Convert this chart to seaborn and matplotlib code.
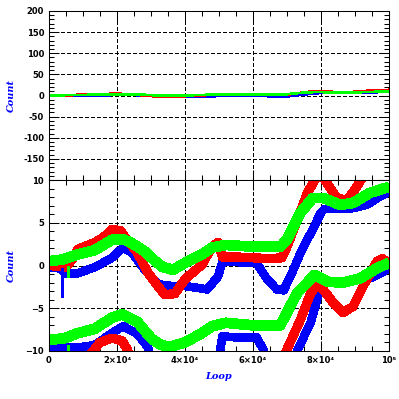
import numpy as np
import pandas as pd
import seaborn as sns
import matplotlib.pyplot as plt
from matplotlib.ticker import MultipleLocator

# ======================================
# DADOS (loop em milhares, contagem)
# ======================================

# conjunto superior (aparece tambem no painel de cima)
loop_blue_hi = [0, 3, 5, 8.5, 13.5, 18.5, 21.8, 24.4, 28, 32, 36, 40, 43.5, 46.5, 49.7, 51,
                55, 61, 64, 67, 69, 71, 74, 77, 80, 81, 85, 88, 91.5, 94, 97, 100]
count_blue_hi = [-0.2, -0.3, -1.0, -0.9, -0.2, 0.9, 2.1, 1.5, -0.4, -2.2, -2.4, -2.4, -2.6, -2.8, -1.3, 0.4,
                 0.4, 0.3, -1.5, -2.8, -2.9, -1.3, 1.5, 3.8, 6.2, 6.6, 6.6, 6.6, 6.9, 7.2, 8.0, 8.6]

loop_red_hi = [0, 3, 5, 7, 8.5, 13.5, 16, 18.5, 21, 22.5, 26, 29, 32, 34, 37, 40, 45, 48, 49.7, 51,
               55, 60, 65, 68.5, 70, 73, 76, 78.5, 80, 82, 84.7, 87.6, 90.5, 92, 95, 100]
count_red_hi = [0.0, -0.1, -0.2, 0.8, 1.9, 2.7, 3.3, 4.2, 4.1, 3.2, 1.5, -0.8, -2.4, -3.4, -3.3, -1.6, 0.1, 2.2, 2.7, 1.0,
                1.0, 0.9, 0.8, 0.9, 2.2, 5.3, 8.5, 10.2, 10.6, 9.5, 7.9, 7.6, 9.2, 10.2, 12.0, 13.5]

loop_green_hi = [0, 4, 8.5, 13.5, 18.5, 21.5, 24, 28, 31, 33.5, 36.5, 40, 45, 48, 52, 60, 68,
                 70, 74, 77.6, 80.6, 85.6, 89.4, 94.4, 100]
count_green_hi = [0.5, 0.7, 1.3, 1.8, 3.0, 3.1, 2.7, 1.7, 0.6, -0.2, -0.5, 0.3, 1.3, 2.1, 2.4, 2.2, 2.2,
                  3.0, 6.2, 7.9, 7.9, 7.1, 7.3, 8.5, 9.2]

# conjunto inferior (so no painel de baixo)
loop_blue_lo = [0, 8.5, 13.5, 18.5, 21.8, 26, 29, 31, 49.5, 51, 55, 61, 63, 65, 72, 73,
                77, 80, 82, 87.6, 94.4, 98, 100]
count_blue_lo = [-9.5, -9.6, -9.3, -7.9, -7.1, -8.0, -9.5, -12, -12, -8.3, -8.4, -8.4, -9.8, -12, -12, -10.0,
                 -6.6, -2.4, -2.0, -1.9, -1.5, -0.8, -0.3]

loop_red_lo = [0, 10, 12, 15, 18.5, 21.5, 23, 25, 68, 70, 74, 77, 79, 80.6, 83.5, 86.5, 89.4,
               92.4, 96.5, 98, 100]
count_red_lo = [-12, -12, -10.5, -9.0, -8.5, -8.8, -9.8, -12, -12, -9.8, -6.3, -3.2, -2.2, -2.8, -4.3, -5.5, -4.8,
                -2.4, 0.5, 0.8, 0.3]

loop_green_lo = [0, 4.7, 8.5, 13.5, 18.5, 21.5, 26, 30, 33, 35.5, 40, 45, 48, 52, 60, 68,
                 70, 73, 76, 78, 82, 86.5, 91.5, 96.5, 100]
count_green_lo = [-8.7, -8.5, -7.9, -7.4, -6.1, -5.7, -6.6, -8.5, -9.3, -9.5, -9.0, -7.9, -7.1, -6.7, -7.0, -7.0,
                  -5.5, -3.2, -2.0, -1.1, -1.9, -2.0, -1.5, -0.3, 0.3]

# picos finos
spike_loop = [3.8, 5.6, 5.6]
spike_lo = [-3.7, -1.3, -10.0]
spike_hi = [-0.3, 0.0, -9.3]
spike_cor = ['#0000ff', '#00ff00', '#00ff00']

x_ticks = [0, 20000, 40000, 60000, 80000, 100000]
x_labels = ['0', '2×10⁴', '4×10⁴', '6×10⁴', '8×10⁴', '10⁵']

# ======================================
# ESTILO
# ======================================

sns.set_theme(style='ticks')
plt.rcParams['font.family'] = ['DejaVu Sans']
plt.rcParams['lines.antialiased'] = False

azul, vermelho, verde = '#0000ff', '#ff0000', '#00ff00'


def serie(loop, count):
    return pd.DataFrame({'Loop': np.array(loop) * 1000, 'Count': count})


fig = plt.figure(figsize=(3.99, 3.99), dpi=100)
ax_top = fig.add_axes([49 / 399, 1 - 180 / 399, 340 / 399, 169 / 399])
ax_bot = fig.add_axes([49 / 399, 1 - 351 / 399, 340 / 399, 171 / 399])

# painel de cima: linhas finas
for lp, ct, cor in [(loop_blue_hi, count_blue_hi, azul),
                    (loop_red_hi, count_red_hi, vermelho),
                    (loop_green_hi, count_green_hi, verde)]:
    sns.lineplot(data=serie(lp, ct), x='Loop', y='Count', color=cor, lw=1.2,
                 estimator=None, legend=False, ax=ax_top)

# painel de baixo: faixas grossas
for lp, ct, cor, lw in [(loop_blue_hi, count_blue_hi, azul, 5.5),
                        (loop_blue_lo, count_blue_lo, azul, 5.5),
                        (loop_red_hi, count_red_hi, vermelho, 6.0),
                        (loop_red_lo, count_red_lo, vermelho, 6.0),
                        (loop_green_hi, count_green_hi, verde, 7.0),
                        (loop_green_lo, count_green_lo, verde, 7.0)]:
    sns.lineplot(data=serie(lp, ct), x='Loop', y='Count', color=cor, lw=lw,
                 estimator=None, legend=False, ax=ax_bot,
                 solid_capstyle='butt', solid_joinstyle='round')

ax_bot.vlines(np.array(spike_loop) * 1000, spike_lo, spike_hi, colors=spike_cor, lw=1.0)

# ======================================
# EIXOS
# ======================================

for ax in (ax_top, ax_bot):
    ax.set_xlim(0, 100000)
    ax.set_xticks(x_ticks)
    ax.xaxis.set_minor_locator(MultipleLocator(5000))
    ax.grid(True, which='major', color='black', linestyle=(0, (3, 2)), lw=0.75)
    ax.tick_params(which='both', direction='in', top=True, right=True,
                   color='black', width=0.75, labelsize=6, labelcolor='black', pad=3.5)
    ax.tick_params(which='major', length=7)
    ax.tick_params(which='minor', length=3.5)
    for sp in ax.spines.values():
        sp.set_color('black')
        sp.set_linewidth(0.75)
    ax.set_facecolor('white')
    ax.set_ylabel('Count', color='blue', style='italic', weight='bold',
                  family='DejaVu Serif', fontsize=7)
    ax.yaxis.set_label_coords(-33 / 340, 0.5)

ax_top.set_ylim(-200, 200)
ax_top.set_yticks(range(-200, 201, 50))
ax_top.set_yticklabels([''] + [str(v) for v in range(-150, 201, 50)])
ax_top.yaxis.set_minor_locator(MultipleLocator(10))
ax_top.set_xticklabels([])
ax_top.set_xlabel('')

ax_bot.set_ylim(-10, 10)
ax_bot.set_yticks([-10, -5, 0, 5, 10])
ax_bot.yaxis.set_minor_locator(MultipleLocator(1))
ax_bot.set_xticklabels(x_labels)
ax_bot.set_xlabel('Loop', color='blue', style='italic', weight='bold',
                  family='DejaVu Serif', fontsize=7)
ax_bot.xaxis.set_label_coords(0.5, -21 / 171)

for lab in ax_top.get_yticklabels() + ax_bot.get_yticklabels() + ax_bot.get_xticklabels():
    lab.set_fontweight('bold')

fig.savefig('out.png', dpi=100, facecolor='white')
